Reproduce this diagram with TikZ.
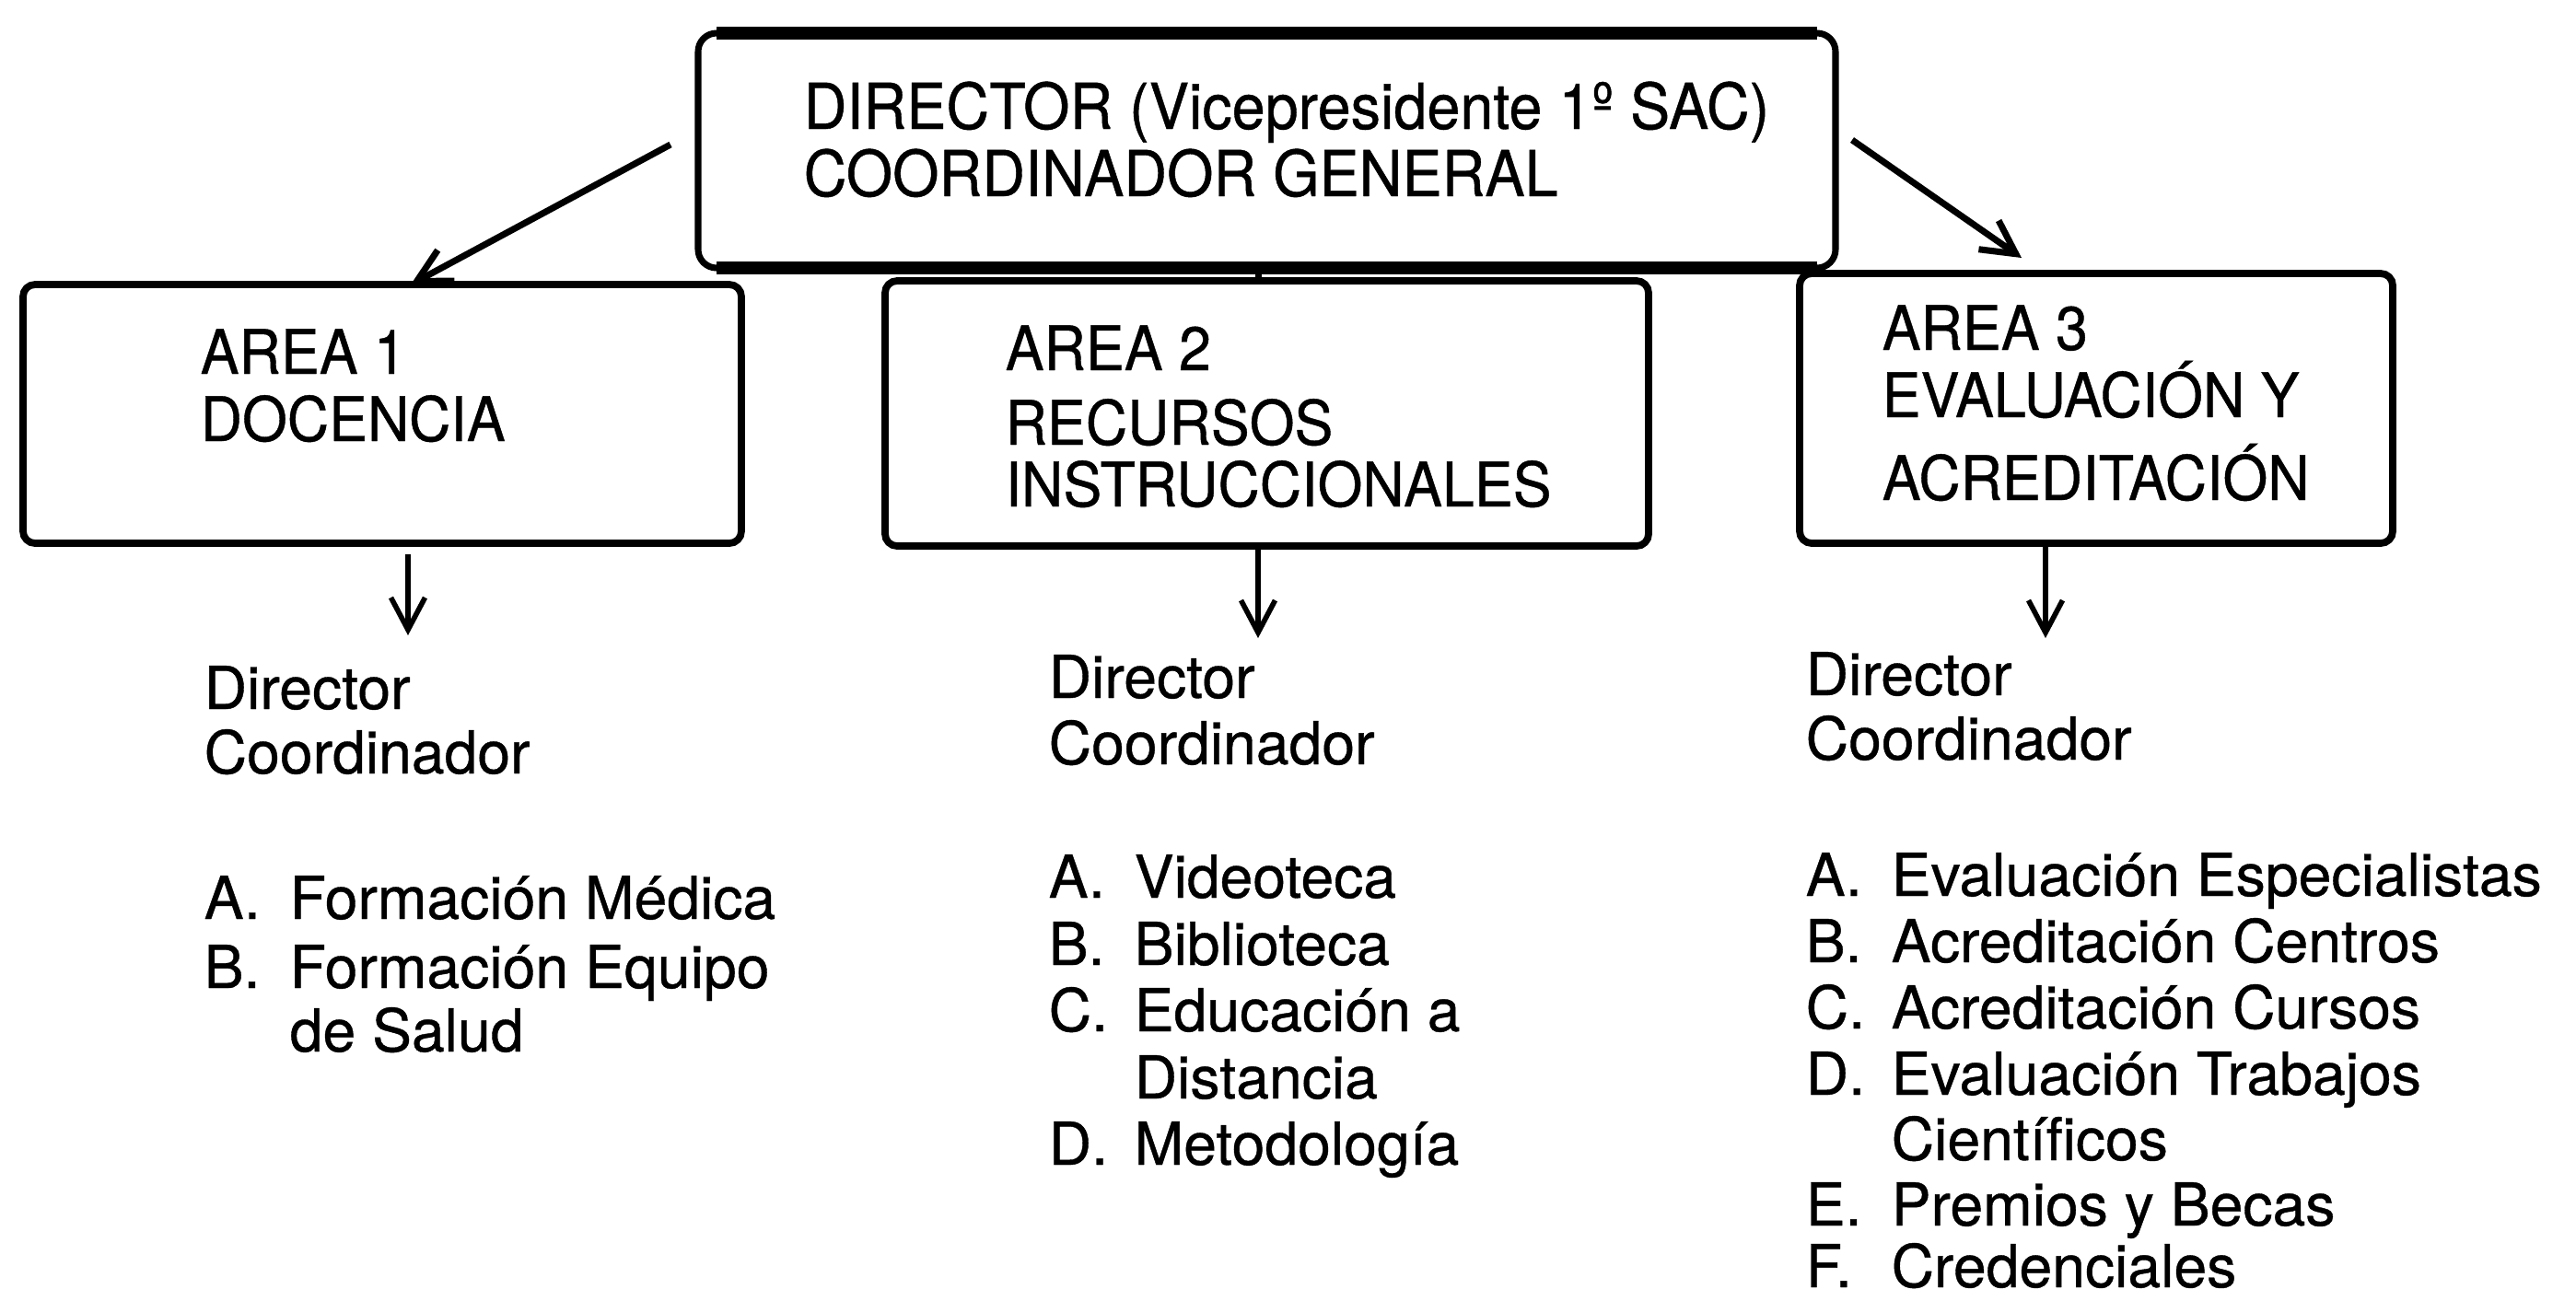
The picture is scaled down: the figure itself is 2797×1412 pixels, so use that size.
\documentclass[tikz,border=0pt]{standalone}
\usepackage{fontspec}
\setmainfont{TeX Gyre Heros}[FakeBold=0.6]
\newfontfamily\boxfont{TeX Gyre Heros}[FakeStretch=0.94, FakeBold=0.6]
\usetikzlibrary{arrows.meta}
\newcommand\orgitem[2]{\makebox[9.3mm][l]{#1}#2}
\begin{document}
\begin{tikzpicture}[x=0.1mm, y=-0.1mm,
  box/.style={draw, line width=2.2pt, rounded corners=1.3mm, inner sep=0pt, outer sep=0pt, anchor=north west},
  lab/.style={inner sep=0pt, anchor=base west, font=\boxfont\fontsize{19}{22}\selectfont},
  toplab/.style={inner sep=0pt, anchor=base west, font=\boxfont\fontsize{19.6}{22}\selectfont},
  txt/.style={inner sep=0pt, anchor=base west, font=\fontsize{18.3}{22}\selectfont},
  arr/.style={line width=1.6pt, -{Straight Barb[length=3.5mm, width=3.7mm]}},
  darr/.style={line width=2pt, -{Straight Barb[length=3.6mm, width=3.8mm]}},
  link/.style={line width=2pt}]
\path[use as bounding box, fill=white] (0,0) rectangle (2797,1412);

% top box
\node[box, line width=2pt, rounded corners=2mm, minimum width=123.5mm, minimum height=25.5mm] (top) at (758,36) {};
\draw[line width=3.8pt] ([xshift=2mm]top.north west) -- ([xshift=-2mm]top.north east);
\draw[line width=3.8pt] ([xshift=2mm]top.south west) -- ([xshift=-2mm]top.south east);
\node[toplab] (t1) at (872,140) {DIRECTOR (Vicepresidente 1º SAC)};
\node[toplab] (t2) at (872,213) {COORDINADOR GENERAL};

% area boxes
\node[box, minimum width=78mm, minimum height=28.1mm] (a1) at (25,309) {};
\node[box, minimum width=82.9mm, minimum height=28.8mm] (a2) at (961,305) {};
\node[box, minimum width=64.4mm, minimum height=29.3mm] (a3) at (1954,297) {};

\node[lab] (a1l1) at (217,406) {AREA 1};
\node[lab] (a1l2) at (217,479) {DOCENCIA};
\node[lab] (a2l1) at (1091,402) {AREA 2};
\node[lab] (a2l2) at (1091,483) {RECURSOS};
\node[lab] (a2l3) at (1091,550) {INSTRUCCIONALES};
\node[lab] (a3l1) at (2043,380) {AREA 3};
\node[lab] (a3l2) at (2043,453) {EVALUACIÓN Y};
\node[lab] (a3l3) at (2043,543) {ACREDITACIÓN};

% connectors
\coordinate (lfrom) at (728,157);
\coordinate (lto) at (446,309);
\coordinate (rfrom) at (2011,152);
\coordinate (rto) at (2195,280);
\coordinate (d1) at (443,690);
\coordinate (d2) at (1366,693);
\coordinate (d3) at (2221,693);
\draw[darr] (lfrom) -- (lto);
\draw[darr] (rfrom) -- (rto);
\draw[link] (top.south -| d2) -- (a2.north -| d2);
\draw[arr, shorten <=1.2mm] (a1.south -| d1) -- (d1);
\draw[arr] (a2.south -| d2) -- (d2);
\draw[arr] (a3.south -| d3) -- (d3);

% column 1
\node[txt] (c1d) at (221,770) {Director};
\node[txt] (c1c) at (221,840) {Coordinador};
\node[txt] (c1a) at (221,998) {\orgitem{A.}{Formación Médica}};
\node[txt] (c1b) at (221,1073) {\orgitem{B.}{Formación Equipo}};
\node[txt] (c1b2) at (221,1142) {\orgitem{}{de Salud}};

% column 2
\node[txt] (c2d) at (1138,758) {Director};
\node[txt] (c2c) at (1138,830) {Coordinador};
\node[txt] (c2a) at (1138,975) {\orgitem{A.}{Videoteca}};
\node[txt] (c2b) at (1138,1048) {\orgitem{B.}{Biblioteca}};
\node[txt] (c2e) at (1138,1120) {\orgitem{C.}{Educación a}};
\node[txt] (c2e2) at (1138,1193) {\orgitem{}{Distancia}};
\node[txt] (c2f) at (1138,1265) {\orgitem{D.}{Metodología}};

% column 3
\node[txt] (c3d) at (1960,755) {Director};
\node[txt] (c3c) at (1960,825) {Coordinador};
\node[txt] (c3a) at (1960,973) {\orgitem{A.}{Evaluación Especialistas}};
\node[txt] (c3b) at (1960,1045) {\orgitem{B.}{Acreditación Centros}};
\node[txt] (c3e) at (1960,1117) {\orgitem{C.}{Acreditación Cursos}};
\node[txt] (c3f) at (1960,1189) {\orgitem{D.}{Evaluación Trabajos}};
\node[txt] (c3f2) at (1960,1260) {\orgitem{}{Científicos}};
\node[txt] (c3g) at (1960,1331) {\orgitem{E.}{Premios y Becas}};
\node[txt] (c3h) at (1960,1398) {\orgitem{F.}{Credenciales}};
\end{tikzpicture}
\end{document}
